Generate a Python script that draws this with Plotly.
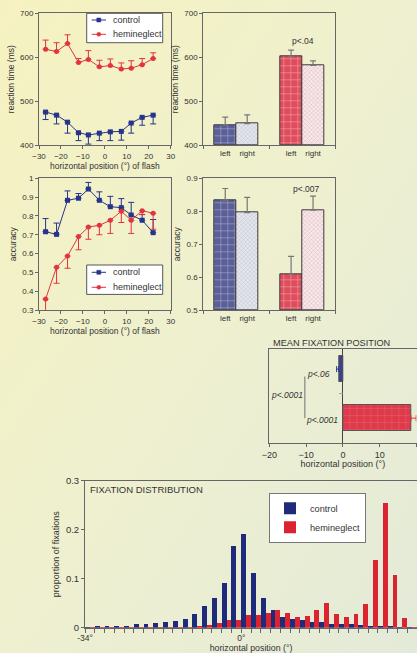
import base64
import plotly.graph_objects as go

# ---------------- data ----------------
positions = [-27, -22, -17, -12, -7.5, -2.5, 2.5, 7.5, 12, 17, 22]

rt_control = [475, 468, 452, 428, 423, 427, 430, 431, 450, 463, 468]
rt_control_err = [17, 20, 25, 18, 21, 17, 20, 20, 23, 18, 20]
rt_hemi = [618, 613, 631, 588, 595, 578, 581, 573, 575, 583, 597]
rt_hemi_err = [21, 20, 20, 9, 20, 15, 15, 14, 17, 14, 13]

acc_control = [0.716, 0.702, 0.883, 0.894, 0.943, 0.883, 0.849, 0.844, 0.805, 0.777, 0.711]
acc_control_err = [0.07, 0.06, 0.05, 0.025, 0.035, 0.045, 0.055, 0.048, 0.067, 0.03, 0.07]
acc_hemi = [0.358, 0.527, 0.587, 0.690, 0.741, 0.750, 0.777, 0.825, 0.777, 0.828, 0.814]
acc_hemi_err = [0.10, 0.085, 0.065, 0.07, 0.065, 0.05, 0.07, 0.06, 0.07, 0.02, 0.085]

side_labels = ["left", "right", "left", "right"]
side_pos = [1, 2, 4, 5]
rt_side = [445.5, 448.5, 602, 581.5]
rt_side_err = [18, 20, 14, 10]
acc_side = [0.834, 0.796, 0.609, 0.803]
acc_side_err = [0.035, 0.046, 0.054, 0.043]

groups = ["control", "hemineglect"]
group_pos = [1, 0]
mean_fix = [-1.1, 18.5]
mean_fix_err_minus = [0.6, 0.0]
mean_fix_err_plus = [0.0, 1.4]

hist_control = [0.001, 0.003, 0.003, 0.004, 0.005, 0.0075, 0.008, 0.0095, 0.012, 0.015,
                0.018, 0.029, 0.045, 0.061, 0.091, 0.167, 0.191, 0.112, 0.061, 0.037,
                0.022, 0.018, 0.016, 0.012, 0.012, 0.009, 0.009, 0.0075, 0.0055, 0.004,
                0.0035, 0.003, 0.002, 0.002]
hist_hemi = [0.001, 0.001, 0.001, 0.001, 0.001, 0.001, 0.001, 0.001, 0.001, 0.001,
             0.002, 0.004, 0.007, 0.011, 0.017, 0.017, 0.027, 0.026, 0.031, 0.036,
             0.031, 0.022, 0.0245, 0.036, 0.052, 0.029, 0.022, 0.028, 0.05, 0.138,
             0.256, 0.109, 0.02, 0.002]
hist_bins = list(range(len(hist_control)))
hist_tick_text = ["-34°", "0°", "34°"]

# ---------------- style ----------------
BLUE = "#26348c"
RED = "#e2343f"
HBLUE = "#1e2a7a"
HRED = "#dc2430"
FONT = "Liberation Sans, Arial, sans-serif"
TXT = "#333333"
LINE = "#666666"

W, H = 417, 653


def dx(a, b):
    return [a / W, b / W]


def dy(top, bottom):
    return [1 - bottom / H, 1 - top / H]


def px(x):
    return x / W


def py(y):
    return 1 - y / H


fig = go.Figure()

# A: reaction time by position
fig.add_trace(go.Scatter(
    x=positions, y=rt_control, mode="lines+markers", name="control",
    line=dict(color=BLUE, width=1), marker=dict(symbol="square", size=5, color=BLUE),
    error_y=dict(type="data", symmetric=False, array=[0] * len(rt_control),
                 arrayminus=rt_control_err, color=BLUE, thickness=1, width=3),
    xaxis="x", yaxis="y", showlegend=False, cliponaxis=False))
fig.add_trace(go.Scatter(
    x=positions, y=rt_hemi, mode="lines+markers", name="hemineglect",
    line=dict(color=RED, width=1), marker=dict(symbol="circle", size=5, color=RED),
    error_y=dict(type="data", symmetric=False, array=rt_hemi_err,
                 arrayminus=[0] * len(rt_hemi), color=RED, thickness=1, width=3),
    xaxis="x", yaxis="y", showlegend=False, cliponaxis=False))

# C: accuracy by position
fig.add_trace(go.Scatter(
    x=positions, y=acc_control, mode="lines+markers", name="control",
    line=dict(color=BLUE, width=1), marker=dict(symbol="square", size=5, color=BLUE),
    error_y=dict(type="data", symmetric=False, array=acc_control_err,
                 arrayminus=[0] * len(acc_control), color=BLUE, thickness=1, width=3),
    xaxis="x3", yaxis="y3", showlegend=False, cliponaxis=False))
fig.add_trace(go.Scatter(
    x=positions, y=acc_hemi, mode="lines+markers", name="hemineglect",
    line=dict(color=RED, width=1), marker=dict(symbol="circle", size=5, color=RED),
    error_y=dict(type="data", symmetric=False, array=[0] * len(acc_hemi),
                 arrayminus=acc_hemi_err, color=RED, thickness=1, width=3),
    xaxis="x3", yaxis="y3", showlegend=False, cliponaxis=False))

bar_fill = ["#5b5f98", "#e5e7f0", "#df4d5c", "#fce6ea"]
bar_pat_fg = ["rgba(255,255,255,0.45)", "#d0d3df", "rgba(255,255,255,0.45)", "#f0c6ce"]
bar_pat_shape = ["+", "x", "+", "x"]
bar_pat_size = [7, 3, 7, 3]

for yvals, errs, xa, ya in [(rt_side, rt_side_err, "x2", "y2"),
                            (acc_side, acc_side_err, "x4", "y4")]:
    base = 400 if ya == "y2" else 0.5
    fig.add_trace(go.Bar(
        x=side_pos, y=[v - base for v in yvals], base=base, width=1,
        marker=dict(color=bar_fill, line=dict(color="#3a3a3a", width=1),
                    pattern=dict(shape=bar_pat_shape, fgcolor=bar_pat_fg, fillmode="overlay",
                                 size=bar_pat_size, solidity=0.15)),
        error_y=dict(type="data", symmetric=False, array=errs,
                     arrayminus=[0] * len(errs), color="#777777", thickness=1.2, width=3),
        showlegend=False, xaxis=xa, yaxis=ya, hoverinfo="skip"))

# E: mean fixation position (one trace per group)
e_fill = ["#3b428c", "#df3a4a"]
e_pat = ["", "+"]
e_err_col = [BLUE, RED]
for k in range(len(groups)):
    fig.add_trace(go.Bar(
        x=[mean_fix[k]], y=[group_pos[k]], orientation="h", width=0.52, offset=-0.26, name=groups[k],
        marker=dict(color=e_fill[k], line=dict(color="#555555", width=1),
                    pattern=dict(shape=e_pat[k], fgcolor="rgba(255,255,255,0.45)", fillmode="overlay",
                                 size=7, solidity=0.12)),
        error_x=dict(type="data", symmetric=False, array=[mean_fix_err_plus[k]],
                     arrayminus=[mean_fix_err_minus[k]], color=e_err_col[k], thickness=1, width=3),
        showlegend=False, xaxis="x5", yaxis="y5", cliponaxis=False))

# F: fixation distribution histogram (control in left half of each bin, hemineglect right half)
fig.add_trace(go.Bar(x=hist_bins, y=hist_control, name="control", width=0.5, offset=-0.5,
                     marker=dict(color=HBLUE, line=dict(width=0)),
                     xaxis="x6", yaxis="y6", legend="legend"))
fig.add_trace(go.Bar(x=hist_bins, y=hist_hemi, name="hemineglect", width=0.5, offset=0.0,
                     marker=dict(color=HRED, line=dict(width=0)),
                     xaxis="x6", yaxis="y6", legend="legend"))

tick_font = dict(family=FONT, size=8, color=TXT)
title_font = dict(family=FONT, size=8.5, color=TXT)
base_axis = dict(showline=True, mirror=True, linecolor=LINE, linewidth=1, ticks="outside",
                 ticklen=3, tickcolor=LINE, showgrid=False, zeroline=False, tickfont=tick_font,
                 automargin=False)

layout = dict(
    template="none",
    width=W, height=H, margin=dict(l=0, r=0, t=0, b=0, pad=0),
    paper_bgcolor="#eef0d0", plot_bgcolor="white",
    font=dict(family=FONT, color=TXT),
    barmode="group", bargap=0, bargroupgap=0,
    hovermode=False,
    xaxis=dict(base_axis, domain=dx(39, 170.7), anchor="y", range=[-30, 30], dtick=10,
               title=dict(text="horizontal position (°) of flash", font=title_font, standoff=2)),
    yaxis=dict(base_axis, domain=dy(13.3, 145), anchor="x", range=[400, 700], dtick=100,
               title=dict(text="reaction time (ms)", font=title_font, standoff=4)),
    xaxis2=dict(base_axis, domain=dx(203.3, 335), anchor="y2", range=[0, 6], tickvals=side_pos,
                ticktext=side_labels, ticks="",
                minor=dict(tickvals=[0, 3, 6], ticks="outside", ticklen=3, tickcolor=LINE)),
    yaxis2=dict(base_axis, domain=dy(13.3, 145), anchor="x2", range=[400, 700], dtick=100,
                title=dict(text="reaction time (ms)", font=title_font, standoff=4)),
    xaxis3=dict(base_axis, domain=dx(39, 170.7), anchor="y3", range=[-30, 30], dtick=10,
                title=dict(text="horizontal position (°) of flash", font=title_font, standoff=2)),
    yaxis3=dict(base_axis, domain=dy(178.3, 310), anchor="x3", range=[0.3, 1], dtick=0.1,
                title=dict(text="accuracy", font=title_font, standoff=4)),
    xaxis4=dict(base_axis, domain=dx(203.3, 335), anchor="y4", range=[0, 6], tickvals=side_pos,
                ticktext=side_labels, ticks="",
                minor=dict(tickvals=[0, 3, 6], ticks="outside", ticklen=3, tickcolor=LINE)),
    yaxis4=dict(base_axis, domain=dy(178.3, 310), anchor="x4", range=[0.5, 0.9], dtick=0.1,
                title=dict(text="accuracy", font=title_font, standoff=4)),
    xaxis5=dict(base_axis, domain=dx(269.3, 416.5), anchor="y5", range=[-20, 20], dtick=10,
                zeroline=True, zerolinecolor="#444444", zerolinewidth=1,
                tickfont=dict(family=FONT, size=9, color=TXT),
                title=dict(text="horizontal position (°)", font=dict(family=FONT, size=9, color=TXT), standoff=2)),
    yaxis5=dict(base_axis, domain=dy(349, 442.7), anchor="x5", range=[-0.5, 1.41],
                showticklabels=False, ticks=""),
    xaxis6=dict(base_axis, domain=[85 / W, 1.0], anchor="y6", range=[-0.5, 33.5],
                tickvals=[-0.5, 15.5, 33.5], ticktext=hist_tick_text, ticklen=4,
                ticklabelstandoff=-2,
                minor=dict(tickvals=[b - 0.5 for b in hist_bins], ticks="outside", ticklen=4, tickcolor=LINE),
                tickfont=dict(family=FONT, size=8.5, color=TXT),
                title=dict(text="horizontal position (°)", font=dict(family=FONT, size=8.8, color=TXT), standoff=1)),
    yaxis6=dict(base_axis, domain=dy(480.7, 627.7), anchor="x6", range=[0, 0.3], dtick=0.1,
                tickfont=dict(family=FONT, size=9.5, color=TXT),
                title=dict(text="proportion of fixations", font=dict(family=FONT, size=9, color=TXT), standoff=4)),
    legend=dict(x=269 / W, y=1 - 492.7 / H, xanchor="left", yanchor="top", bgcolor="white",
                bordercolor="#777777", borderwidth=1, font=dict(family=FONT, size=9.2, color=TXT),
                itemwidth=30, tracegroupgap=0),
    showlegend=True,
)
fig.update_layout(**layout)

# annotations
ann_font = dict(family=FONT, size=8.5, color=TXT)
fig.add_annotation(x=4.55, y=637, xref="x2", yref="y2", text="p<.04", showarrow=False, font=ann_font)
fig.add_annotation(x=4.7, y=0.8675, xref="x4", yref="y4", text="p<.007", showarrow=False, font=ann_font)
fig.add_annotation(x=-6.5, y=0.9, xref="x5", yref="y5", text="<i>p<.06</i>", showarrow=False, font=ann_font)
fig.add_annotation(x=-15.2, y=0.48, xref="x5", yref="y5", text="<i>p<.0001</i>", showarrow=False, font=ann_font)
fig.add_annotation(x=-5.6, y=-0.03, xref="x5", yref="y5", text="<i>p<.0001</i>", showarrow=False, font=ann_font)
fig.add_annotation(x=px(270.7), y=py(343.3), xref="paper", yref="paper", xanchor="left", yanchor="middle",
                   text="MEAN FIXATION POSITION", showarrow=False, font=dict(family=FONT, size=9.2, color=TXT))
fig.add_annotation(x=px(88.3), y=py(489), xref="paper", yref="paper", xanchor="left", yanchor="middle",
                   text="FIXATION DISTRIBUTION", showarrow=False, font=dict(family=FONT, size=9.5, color=TXT))

# bracket line and small mark in mean fixation panel
fig.add_shape(type="line", xref="x5", yref="y5", x0=-10.35, x1=-10.35, y0=0.0, y1=0.85,
              line=dict(color="#9a9a9a", width=1.5))
fig.add_shape(type="line", xref="x5", yref="y5", x0=-1.0, x1=0, y0=0.5, y1=0.5,
              line=dict(color="#9a9a9a", width=1))

# compact legend boxes for the two line panels (line + marker keys)
legend_names = ["control", "hemineglect"]
legend_cols = [BLUE, RED]
legend_syms = ["rect", "circle"]
for top, rows in [(13.3, [20.0, 34.3]), (265.0, [272.3, 287.3])]:
    fig.add_shape(type="rect", xref="paper", yref="paper", x0=px(86.7), x1=px(162.7),
                  y0=py(top), y1=py(top + 29.4), fillcolor="white",
                  line=dict(color="#555555", width=1))
    for name, col, sym, yy in zip(legend_names, legend_cols, legend_syms, rows):
        fig.add_shape(type="line", xref="paper", yref="paper", x0=px(91.7), x1=px(106),
                      y0=py(yy), y1=py(yy), line=dict(color=col, width=1))
        fig.add_shape(type=sym, xref="paper", yref="paper", x0=px(96.8), x1=px(100.8),
                      y0=py(yy + 2), y1=py(yy - 2), fillcolor=col, line=dict(color=col, width=0.5))
        fig.add_annotation(x=px(110.5), y=py(yy), xref="paper", yref="paper", xanchor="left",
                           yanchor="middle", text=name, showarrow=False,
                           font=dict(family=FONT, size=9, color=TXT))

# background gradient
svg = (f'<svg xmlns="http://www.w3.org/2000/svg" width="{W}" height="{H}" preserveAspectRatio="none">'
       '<defs><linearGradient id="g" x1="0" y1="0" x2="1" y2="1">'
       '<stop offset="0" stop-color="#f6f2c0"/><stop offset="0.5" stop-color="#eef0cf"/>'
       '<stop offset="1" stop-color="#e4ead9"/></linearGradient></defs>'
       f'<rect width="{W}" height="{H}" fill="url(#g)"/></svg>')
src = "data:image/svg+xml;base64," + base64.b64encode(svg.encode()).decode()
fig.add_layout_image(source=src, xref="paper", yref="paper", x=0, y=1, sizex=1, sizey=1,
                     sizing="stretch", layer="below", xanchor="left", yanchor="top")

fig.write_html("out.html", config={"displayModeBar": False},
               post_script="document.body.style.margin='0';document.body.style.overflow='hidden';")
